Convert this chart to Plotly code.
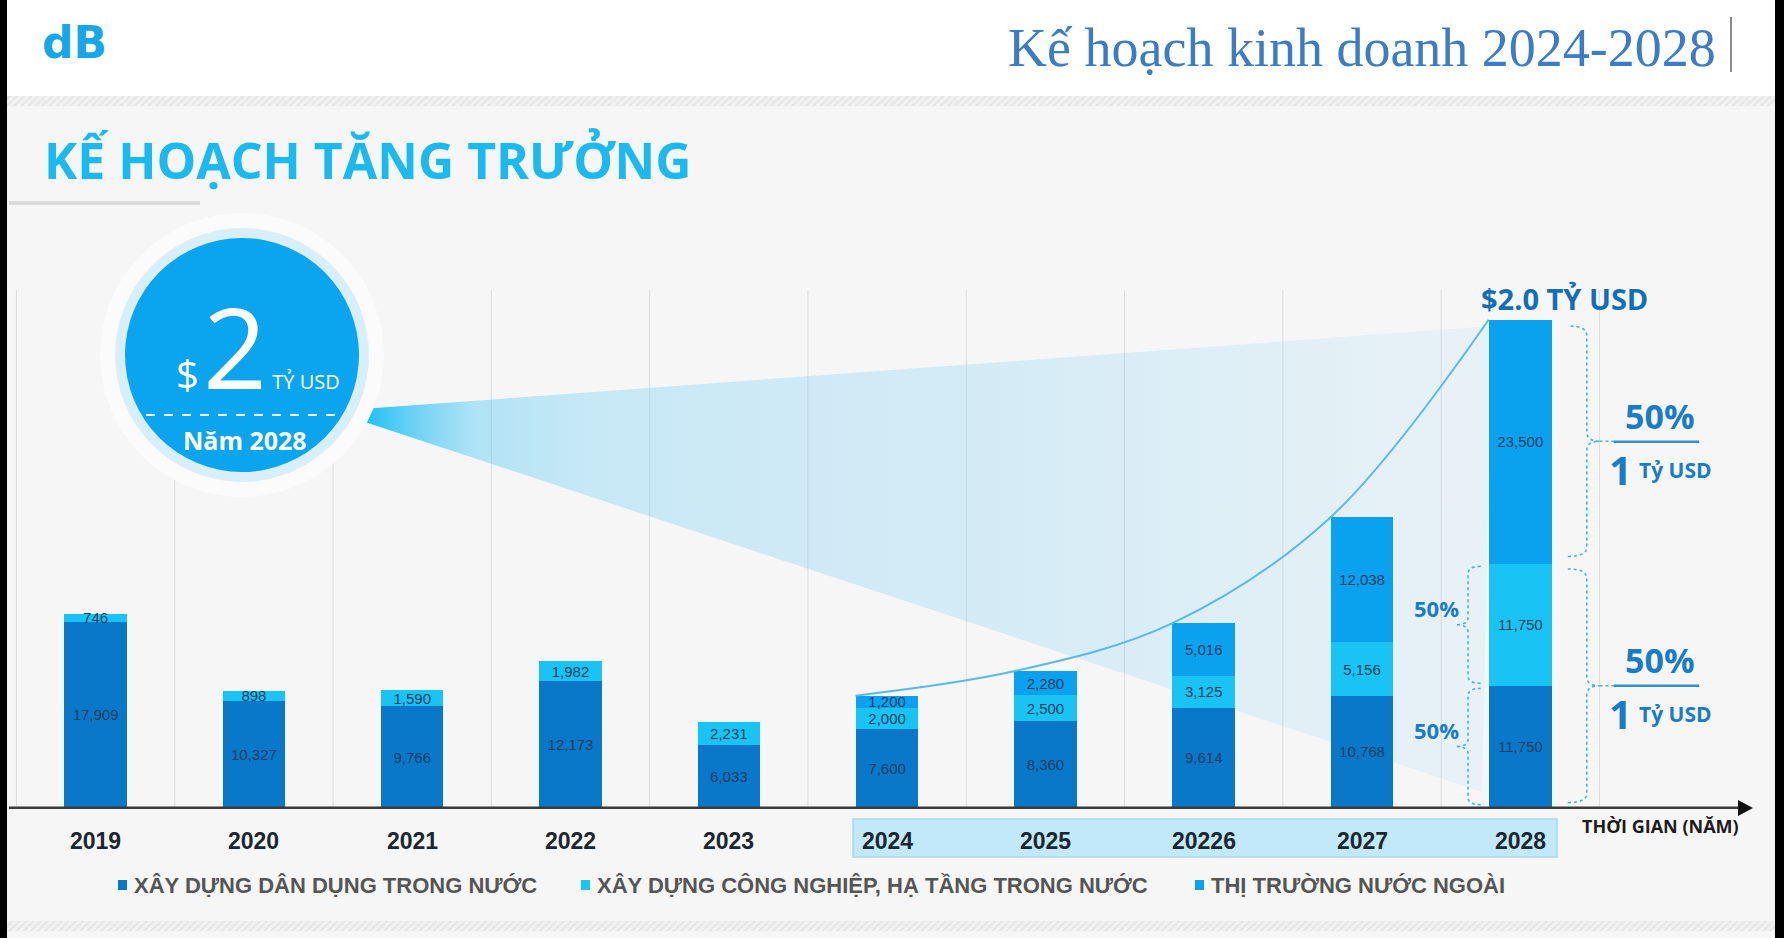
import plotly.graph_objects as go

# ---- data (tỷ đồng) ----
years = ["2019", "2020", "2021", "2022", "2023", "2024", "2025", "20226", "2027", "2028"]
dan_dung = [17909, 10327, 9766, 12173, 6033, 7600, 8360, 9614, 10768, 11750]
cong_nghiep = [746, 898, 1590, 1982, 2231, 2000, 2500, 3125, 5156, 11750]
nuoc_ngoai = [0, 0, 0, 0, 0, 1200, 2280, 5016, 12038, 23500]
series_names = [
    "XÂY DỰNG DÂN DỤNG TRONG NƯỚC",
    "XÂY DỰNG CÔNG NGHIỆP, HẠ TẦNG TRONG NƯỚC",
    "THỊ TRƯỜNG NƯỚC NGOÀI",
]
plan_start = 5  # index of 2024

COLORS = ["#0a78c8", "#19c3f3", "#0aa1ef"]
ACCENT = "#1a7cc6"

# ---- page geometry (pixels) ----
W, H = 1784, 938
X0, DX = 95.6, 158.3      # pixel of first category, pixels per category
Y0, KY = 807.8, 0.010385  # pixel of zero, pixels per unit


def fx(px):
    return (px - X0) / DX


def fy(py):
    return (Y0 - py) / KY


def PX(px):
    return px / W


def PY(py):
    return 1 - py / H


idx = list(range(len(years)))
totals = [a + b + c for a, b, c in zip(dan_dung, cong_nghiep, nuoc_ngoai)]

fig = go.Figure()

# hatched separator bands
for top, bot in [(96, 106), (921, 931)]:
    fig.add_trace(go.Scatter(
        x=[fx(0), fx(W), fx(W), fx(0), fx(0)],
        y=[fy(top), fy(top), fy(bot), fy(bot), fy(top)],
        fill="toself", mode="lines", line=dict(width=0),
        fillcolor="#f1f1f1",
        fillpattern=dict(shape="/", fgcolor="#d4d4d4", bgcolor="#f1f1f1", size=5, solidity=0.3),
        hoverinfo="skip", showlegend=False,
    ))

# light wedge from the circle towards 2028 (base axes -> sits under the bars)
fig.add_trace(go.Scatter(
    x=[fx(362), fx(1492), fx(1482), fx(362), fx(362)],
    y=[fy(409), fy(326), fy(792), fy(421), fy(409)],
    fill="toself", mode="lines", line=dict(width=0),
    fillgradient=dict(
        type="horizontal",
        colorscale=[[0, "rgba(20,190,245,1)"], [0.04, "rgba(50,195,245,0.75)"],
                    [0.1, "rgba(80,200,245,0.42)"], [0.2, "rgba(90,200,245,0.3)"],
                    [0.6, "rgba(100,200,245,0.22)"], [1, "rgba(130,210,245,0.12)"]],
    ),
    hoverinfo="skip", showlegend=False,
))

# stacked bars on overlay axes so they stay above the wedge
for name, vals, color in zip(series_names, [dan_dung, cong_nghiep, nuoc_ngoai], COLORS):
    fig.add_trace(go.Bar(
        x=idx, y=vals, name=name, width=0.395, xaxis="x2", yaxis="y2",
        marker=dict(color=color, line=dict(width=0)),
        text=[f"{v:,}" if v else "" for v in vals],
        textposition="inside", insidetextanchor="middle", textangle=0,
        constraintext="none",
        textfont=dict(family="Liberation Sans Narrow, Liberation Sans", size=15, color="#143f62"),
        hoverinfo="skip", showlegend=False,
    ))

# growth curve through the plan years
fig.add_trace(go.Scatter(
    x=[i - 0.2 for i in idx[plan_start:]], y=totals[plan_start:], xaxis="x2", yaxis="y2",
    mode="lines", line=dict(color="#5cb9e6", width=2, shape="spline", smoothing=1.0),
    hoverinfo="skip", showlegend=False,
))

shapes = []
ann = []

# top white header area + black side strips
shapes.append(dict(type="rect", xref="paper", yref="paper", x0=0, x1=1, y0=PY(96), y1=1,
                   fillcolor="white", line=dict(width=0), layer="below"))
for a, b in [(0, 7), (1775, W)]:
    shapes.append(dict(type="rect", xref="paper", yref="paper", x0=PX(a), x1=PX(b), y0=0, y1=1,
                       fillcolor="black", line=dict(width=0), layer="above"))

# gridlines between categories
for i in range(len(years) + 1):
    shapes.append(dict(type="line", xref="x", yref="y", x0=i - 0.5, x1=i - 0.5,
                       y0=0, y1=fy(290), line=dict(color="#dcdcdc", width=1), layer="below"))

# baseline with arrow
shapes.append(dict(type="line", xref="paper", yref="y", x0=PX(9), x1=PX(1742), y0=0, y1=0,
                   line=dict(color="#3a3a3a", width=2.5), layer="above"))
shapes.append(dict(type="path", xref="paper", yref="paper",
                   path=f"M {PX(1738)},{PY(800)} L {PX(1753)},{PY(808)} L {PX(1738)},{PY(816)} Z",
                   fillcolor="#111", line=dict(width=0), layer="above"))

# plan-year highlight box
shapes.append(dict(type="rect", xref="paper", yref="paper", x0=PX(853), x1=PX(1557),
                   y0=PY(857), y1=PY(819), fillcolor="#c2e9f9",
                   line=dict(color="#a9d8ee", width=1.5), layer="below"))

# heading underline
shapes.append(dict(type="line", xref="paper", yref="paper", x0=PX(9), x1=PX(200),
                   y0=PY(203), y1=PY(203), line=dict(color="#dcdcdc", width=4)))

# title divider
shapes.append(dict(type="line", xref="paper", yref="paper", x0=PX(1731), x1=PX(1731),
                   y0=PY(17), y1=PY(72), line=dict(color="#8a8a8a", width=2)))

# big circle
cx, cy = 242, 355
for r, col in [(142, "#fbfbfb"), (127, "#d8effa"), (117, "#0ba4ee")]:
    shapes.append(dict(type="circle", xref="paper", yref="paper",
                       x0=PX(cx - r), x1=PX(cx + r), y0=PY(cy + r), y1=PY(cy - r),
                       fillcolor=col, line=dict(width=0), layer="above"))
shapes.append(dict(type="line", xref="paper", yref="paper", x0=PX(146), x1=PX(341),
                   y0=PY(415), y1=PY(415), line=dict(color="white", width=2, dash="dash"),
                   layer="above"))


def brace(y0, y1, xt, xl, xm, r=900):
    ym = (y0 + y1) / 2
    return (f"M {xt},{y0} Q {xl},{y0} {xl},{y0 + r} L {xl},{ym - r} "
            f"Q {xl},{ym} {xm},{ym} Q {xl},{ym} {xl},{ym + r} "
            f"L {xl},{y1 - r} Q {xl},{y1} {xt},{y1}")


last = len(years) - 1
brace_line = dict(color="#45b3e0", width=1.6, dash="dot")
dom, ind, frn = dan_dung[last], cong_nghiep[last], nuoc_ngoai[last]
# right braces (foreign / domestic)
for lo, hi in [(dom + ind + 700, dom + ind + frn - 600), (500, dom + ind - 500)]:
    shapes.append(dict(type="path", xref="x", yref="y",
                       path=brace(lo, hi, last + 0.30, last + 0.42, last + 0.50),
                       line=brace_line))
    ym = (lo + hi) / 2
    shapes.append(dict(type="line", xref="x", yref="y", x0=last + 0.50, x1=last + 0.59,
                       y0=ym, y1=ym, line=brace_line))
# left braces (industrial / civil)
for lo, hi in [(dom + 250, dom + ind - 250), (300, dom - 250)]:
    shapes.append(dict(type="path", xref="x", yref="y",
                       path=brace(lo, hi, last - 0.25, last - 0.33, last - 0.41, r=700),
                       line=brace_line))

# right labels: 50% / 1 Tỷ USD
grand = totals[last]
for part, (lo, hi) in [(frn, (dom + ind, grand)), (dom + ind, (0, dom + ind))]:
    ym = (lo + hi) / 2
    shapes.append(dict(type="line", xref="x", yref="y", x0=last + 0.59, x1=last + 1.13,
                       y0=ym, y1=ym, line=dict(color="#2f8fd0", width=2.5)))
    ann.append(dict(x=last + 0.88, y=ym, xref="x", yref="y", yanchor="bottom", yshift=1,
                    text=f"<b>{part / grand:.0%}</b>",
                    font=dict(family="Open Sans", size=34, color=ACCENT)))
    ann.append(dict(x=last + 0.63, y=ym, xref="x", yref="y", yanchor="top", yshift=2,
                    text="<b>1</b>",
                    font=dict(family="Open Sans", size=40, color=ACCENT)))
    ann.append(dict(x=last + 0.98, y=ym, xref="x", yref="y", yanchor="top", yshift=-12,
                    text="<b>Tỷ USD</b>",
                    font=dict(family="Open Sans", size=21, color=ACCENT)))

# left labels
for part, (lo, hi) in [(ind, (dom, dom + ind)), (dom, (0, dom))]:
    ann.append(dict(x=last - 0.53, y=(lo + hi) / 2 + 1600, xref="x", yref="y",
                    text=f"<b>{part / (dom + ind):.0%}</b>",
                    font=dict(family="Open Sans", size=22, color=ACCENT)))

# top value
ann.append(dict(x=last, y=grand, xref="x", yref="y", xshift=44, yanchor="bottom",
                text="<b>$2.0 TỶ USD</b>",
                font=dict(family="Open Sans", size=29, color="#136fb5")))

# year labels
for i, yr in enumerate(years):
    ann.append(dict(x=i, y=PY(841), xref="x", yref="paper", text=f"<b>{yr}</b>",
                    font=dict(family="Liberation Sans", size=23, color="#1c2630")))
ann.append(dict(x=PX(1660), y=PY(826), xref="paper", yref="paper", text="<b>THỜI GIAN (NĂM)</b>",
                font=dict(family="Open Sans", size=18, color="#1c1c1c")))

# legend
for name, color, sx in zip(series_names, COLORS, [118, 581, 1195]):
    shapes.append(dict(type="rect", xref="paper", yref="paper", x0=PX(sx), x1=PX(sx + 9),
                       y0=PY(890), y1=PY(880), fillcolor=color, line=dict(width=0)))
    ann.append(dict(x=PX(sx + 14), y=PY(885), xref="paper", yref="paper", xanchor="left",
                    text=f"<b>{name}</b>",
                    font=dict(family="Liberation Sans", size=22, color="#555555")))

# circle text ($2 TỶ USD on one baseline, then Năm 2028)
ann.append(dict(x=PX(258), y=PY(363), xref="paper", yref="paper", height=118, valign="bottom",
                text="<span style='font-size:40px'>$</span>"
                     "<span style='font-size:16px'> </span>2"
                     "<span style='font-size:20px'> TỶ USD</span>",
                font=dict(family="Open Sans", size=112, color="white")))
ann.append(dict(x=PX(245), y=PY(440), xref="paper", yref="paper", text="<b>Năm 2028</b>",
                font=dict(family="Open Sans", size=25, color="white")))

# headings
ann.append(dict(x=PX(1718), y=PY(48), xref="paper", yref="paper", xanchor="right",
                text="Kế hoạch kinh doanh 2024-2028",
                font=dict(family="Liberation Serif", size=54, color="#3b7cc4")))
ann.append(dict(x=PX(42), y=PY(160), xref="paper", yref="paper", xanchor="left",
                text="<b>KẾ HOẠCH TĂNG TRƯỞNG</b>",
                font=dict(family="Open Sans", size=50, color="#1cb9ef")))
ann.append(dict(x=PX(74), y=PY(42), xref="paper", yref="paper",
                text="<b>dB</b>",
                font=dict(family="DejaVu Sans", size=44, color="#17a6e6")))

for a in ann:
    a.setdefault("xanchor", "center")
    a.setdefault("yanchor", "middle")
    a["showarrow"] = False

axis_style = dict(visible=False, fixedrange=True)
fig.update_layout(
    width=W, height=H, margin=dict(l=0, r=0, t=0, b=0),
    paper_bgcolor="#f6f6f6", plot_bgcolor="rgba(0,0,0,0)",
    barmode="stack", showlegend=False,
    xaxis=dict(range=[fx(0), fx(W)], **axis_style),
    yaxis=dict(range=[fy(H), fy(0)], **axis_style),
    xaxis2=dict(range=[fx(0), fx(W)], overlaying="x", **axis_style),
    yaxis2=dict(range=[fy(H), fy(0)], overlaying="y", **axis_style),
    shapes=shapes, annotations=ann,
)

fig.write_html(
    "out.html",
    config={"displayModeBar": False},
    post_script="document.body.style.margin='0px'; document.body.style.overflow='hidden';",
)
